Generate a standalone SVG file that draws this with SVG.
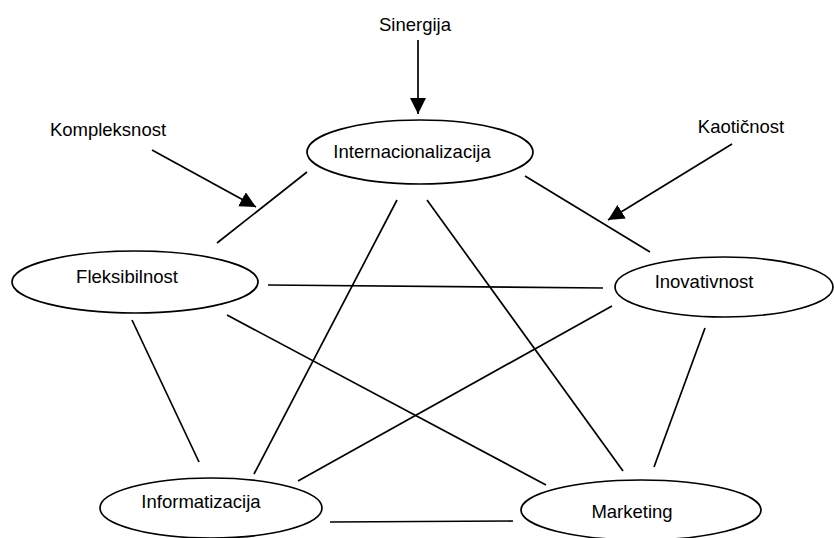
<svg xmlns="http://www.w3.org/2000/svg" width="834" height="538" viewBox="0 0 834 538">
<style>
text{font-family:"Liberation Sans",Arial,sans-serif;font-size:18.5px;fill:#000;text-anchor:middle}
ellipse{fill:#fff;stroke:#000;stroke-width:1.7}
.c line{stroke:#000;stroke-width:1.7}
</style>
<defs>
<marker id="ah" markerUnits="userSpaceOnUse" markerWidth="16" markerHeight="16" refX="16" refY="8" orient="auto">
<path d="M0,0 L16,8 L0,16 z" fill="#000"/>
</marker>
</defs>
<rect width="834" height="538" fill="#fff"/>
<g class="c" id="connectors">
<line x1="307" y1="172" x2="217" y2="243"/>
<line x1="525" y1="176" x2="650" y2="252"/>
<line x1="397" y1="200" x2="254" y2="474"/>
<line x1="427" y1="200" x2="623" y2="471"/>
<line x1="268" y1="285" x2="603" y2="288"/>
<line x1="132" y1="320" x2="199" y2="462"/>
<line x1="227" y1="315" x2="546" y2="485"/>
<line x1="612" y1="306" x2="298" y2="481"/>
<line x1="705" y1="328" x2="654" y2="467"/>
<line x1="330" y1="522" x2="513" y2="521"/>
<line x1="418" y1="40" x2="418" y2="114" marker-end="url(#ah)"/>
<line x1="152" y1="150" x2="256" y2="207" marker-end="url(#ah)"/>
<line x1="732" y1="144" x2="608" y2="220" marker-end="url(#ah)"/>
</g>
<g id="sinergija"><text x="415" y="31">Sinergija</text></g>
<g id="kompleksnost"><text x="108" y="136">Kompleksnost</text></g>
<g id="kaoticnost"><text x="741" y="133">Kaotičnost</text></g>
<g id="internacionalizacija"><ellipse cx="420" cy="152" rx="113" ry="32"/><text x="412" y="158">Internacionalizacija</text></g>
<g id="fleksibilnost"><ellipse cx="135" cy="282" rx="123" ry="31"/><text x="127" y="283">Fleksibilnost</text></g>
<g id="inovativnost"><ellipse cx="724" cy="287" rx="109" ry="30"/><text x="704" y="288">Inovativnost</text></g>
<g id="informatizacija"><ellipse cx="211" cy="508" rx="111" ry="30"/><text x="201" y="508">Informatizacija</text></g>
<g id="marketing"><ellipse cx="641" cy="510" rx="120" ry="30"/><text x="632" y="518">Marketing</text></g>
</svg>
